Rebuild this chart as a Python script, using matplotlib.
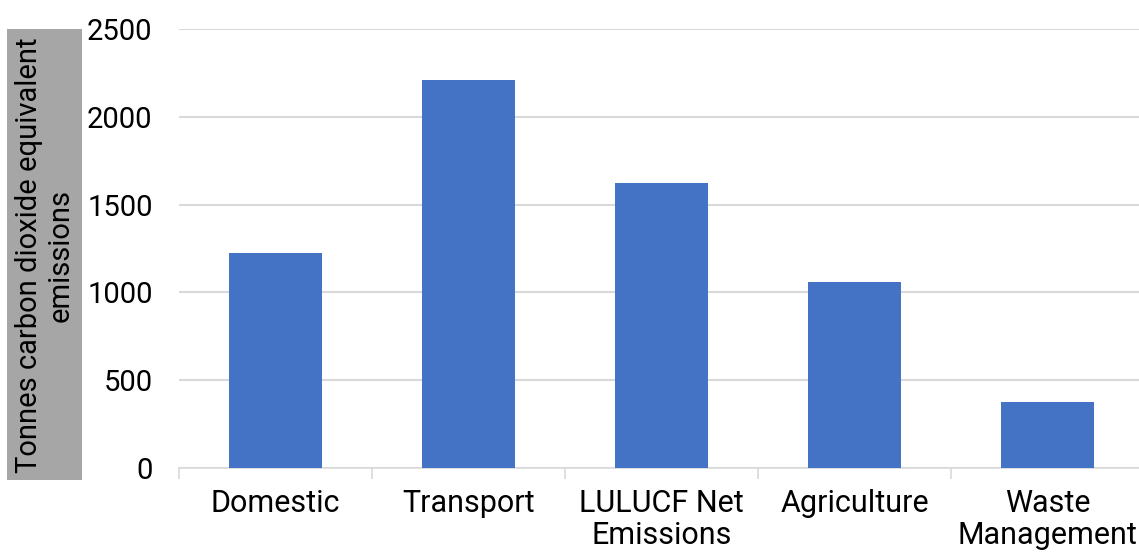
import matplotlib.pyplot as plt
from matplotlib.patches import Rectangle

plt.rcParams['font.family'] = ['Roboto', 'DejaVu Sans']

categories = ['Domestic', 'Transport', 'LULUCF Net\nEmissions', 'Agriculture', 'Waste\nManagement']
emissions = [1222, 2210, 1625, 1057, 375]
yticks = [0, 500, 1000, 1500, 2000, 2500]

W, H = 1139, 553
fig = plt.figure(figsize=(W / 100, H / 100), dpi=100)
ax = fig.add_axes([179 / W, (H - 468) / H, 965 / W, (468 - 29) / H])

x = range(len(categories))
ax.bar(x, emissions, width=0.48, color='#4472c4', zorder=3)

ax.set_xlim(-0.5, 4.5)
ax.set_ylim(0, 2500)
ax.set_yticks(yticks)
ax.set_yticklabels([str(t) for t in yticks], fontsize=21, color='black')
ax.tick_params(axis='y', length=0, pad=19)

# category boundary ticks, labels between them
ax.set_xticks([i - 0.5 for i in range(len(categories) + 1)])
ax.set_xticklabels([])
ax.set_xticks(list(x), minor=True)
ax.set_xticklabels(categories, minor=True, fontsize=22, linespacing=1.15)
ax.tick_params(axis='x', which='major', length=8, color='#d9d9d9', width=1.2)
ax.tick_params(axis='x', which='minor', length=0, pad=15)

ax.grid(axis='y', color='#d9d9d9', linewidth=1.5, zorder=0)
for s in ['top', 'right', 'left']:
    ax.spines[s].set_visible(False)
ax.spines['bottom'].set_color('#d9d9d9')
ax.spines['bottom'].set_linewidth(1.2)

# grey box behind the y axis title
fig.patches.append(Rectangle((7 / W, (H - 480) / H), 75 / W, 451 / H,
                             transform=fig.transFigure, facecolor='#a6a6a6',
                             edgecolor='none', zorder=0))
fig.text(45 / W, (H - 255) / H, 'Tonnes carbon dioxide equivalent\nemissions',
         rotation=90, ha='center', va='center', fontsize=21, linespacing=1.15)

fig.savefig('out.png', dpi=100)
